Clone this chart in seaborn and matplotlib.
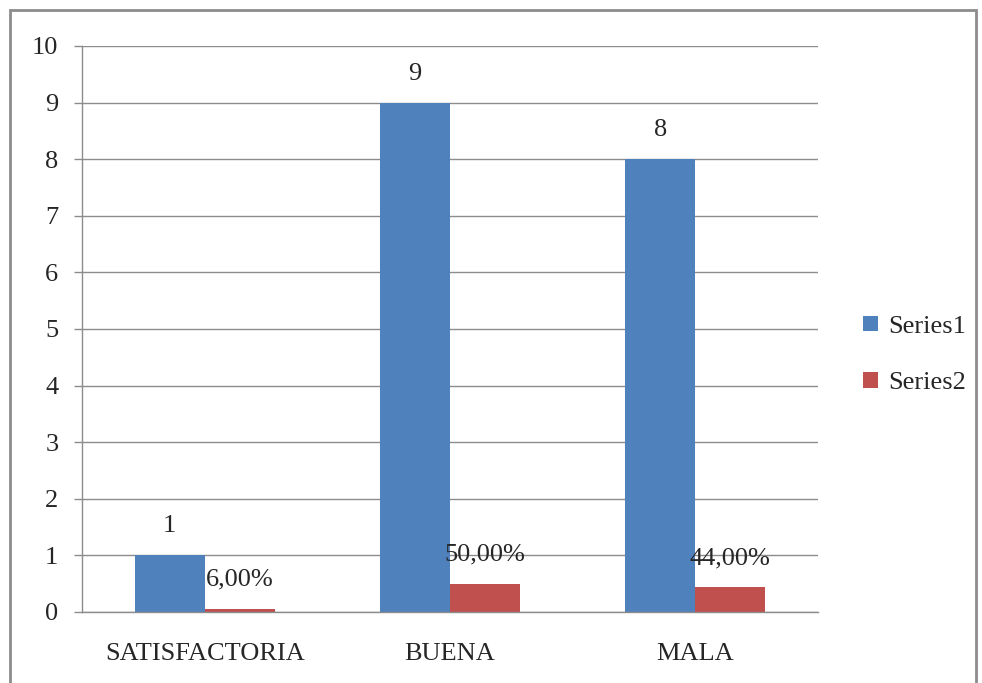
import pandas as pd
import numpy as np
import matplotlib.pyplot as plt
import seaborn as sns
from matplotlib.patches import Rectangle

# Data
categories = ['SATISFACTORIA', 'BUENA', 'MALA']
series1 = [1, 9, 8]
series2 = [0.06, 0.50, 0.44]
series2_labels = ['6,00%', '50,00%', '44,00%']

df = pd.DataFrame({
    'categoria': categories * 2,
    'valor': series1 + series2,
    'serie': ['Series1'] * 3 + ['Series2'] * 3,
})

sns.set_style('white')
plt.rcParams['font.family'] = ['Liberation Serif', 'DejaVu Serif']
FS = 19

fig = plt.figure(figsize=(9.82, 6.83), dpi=100)
ax = fig.add_axes([0.0835, 0.104, 0.7495, 0.8287])

sns.barplot(data=df, x='categoria', y='valor', hue='serie',
            palette=['#4F81BD', '#C0504D'], width=0.57, saturation=1,
            ax=ax, edgecolor='none', linewidth=0)

# value labels
for cont, labels in zip(ax.containers, [[str(v) for v in series1], series2_labels]):
    ax.bar_label(cont, labels=labels, padding=13, fontsize=FS)

ax.set_ylim(0, 10)
ax.set_xlim(-0.5, 2.5)
ax.set_yticks(range(0, 11))
ax.yaxis.grid(True, color='#8c8c8c', linewidth=1)
ax.set_axisbelow(True)
ax.set_xlabel('')
ax.set_ylabel('')

for side in ['top', 'right']:
    ax.spines[side].set_visible(False)
for side in ['left', 'bottom']:
    ax.spines[side].set_color('#8c8c8c')
    ax.spines[side].set_linewidth(1)

# category boundary ticks like Excel
ax.set_xticks([0.5, 1.5, 2.5, -0.5], minor=True)
ax.tick_params(axis='x', which='minor', length=10, color='#8c8c8c', width=1)
ax.tick_params(axis='x', which='major', length=0, labelsize=FS, pad=22)
ax.tick_params(axis='y', length=6, color='#8c8c8c', width=1, labelsize=FS, pad=11, left=True)

leg = ax.legend(loc='center left', bbox_to_anchor=(1.029, 0.454), frameon=False,
                fontsize=FS, handlelength=0.55, handleheight=0.55, handletextpad=0.4,
                labelspacing=1.3, title=None)

# outer chart border
fig.patches.append(Rectangle((10 / 982, -0.05), 966 / 982, 1 - 10 / 683 + 0.05,
                             transform=fig.transFigure, fill=False,
                             edgecolor='#8c8c8c', linewidth=2))

fig.savefig('out.png', dpi=100)
